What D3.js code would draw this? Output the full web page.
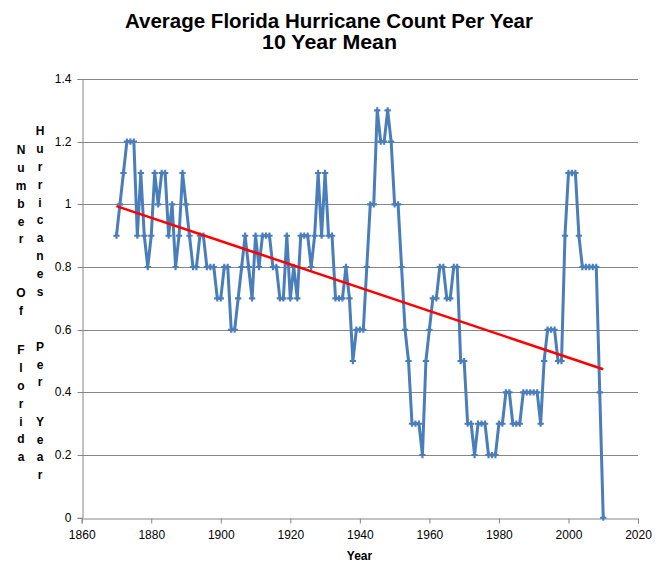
<!DOCTYPE html>
<html>
<head>
<meta charset="utf-8">
<script src="https://cdn.jsdelivr.net/npm/d3@7"></script>
<style>
  body { margin: 0; background: #fff; }
  svg { display: block; }
  .tick text { font-family: "Liberation Sans", Arial, sans-serif; font-size: 12px; fill: #000; }
</style>
</head>
<body>
<div id="chart"></div>
<script>
// 10 year mean of Florida hurricane counts, one value per year from 1870
var firstYear = 1870;
var meanCounts = [
    0.9, 1.0, 1.1, 1.2, 1.2, 1.2, 0.9, 1.1, 0.9, 0.8,   // 1870s
    0.9, 1.1, 1.0, 1.1, 1.1, 0.9, 1.0, 0.8, 0.9, 1.1,   // 1880s
    1.0, 0.9, 0.8, 0.8, 0.9, 0.9, 0.8, 0.8, 0.8, 0.7,   // 1890s
    0.7, 0.8, 0.8, 0.6, 0.6, 0.7, 0.8, 0.9, 0.8, 0.7,   // 1900s
    0.9, 0.8, 0.9, 0.9, 0.9, 0.8, 0.8, 0.7, 0.7, 0.9,   // 1910s
    0.7, 0.8, 0.7, 0.9, 0.9, 0.9, 0.8, 0.9, 1.1, 0.9,   // 1920s
    1.1, 0.9, 0.9, 0.7, 0.7, 0.7, 0.8, 0.7, 0.5, 0.6,   // 1930s
    0.6, 0.6, 0.8, 1.0, 1.0, 1.3, 1.2, 1.2, 1.3, 1.2,   // 1940s
    1.0, 1.0, 0.8, 0.6, 0.5, 0.3, 0.3, 0.3, 0.2, 0.5,   // 1950s
    0.6, 0.7, 0.7, 0.8, 0.8, 0.7, 0.7, 0.8, 0.8, 0.5,   // 1960s
    0.5, 0.3, 0.3, 0.2, 0.3, 0.3, 0.3, 0.2, 0.2, 0.2,   // 1970s
    0.3, 0.3, 0.4, 0.4, 0.3, 0.3, 0.3, 0.4, 0.4, 0.4,   // 1980s
    0.4, 0.4, 0.3, 0.5, 0.6, 0.6, 0.6, 0.5, 0.5, 0.9,   // 1990s
    1.1, 1.1, 1.1, 0.9, 0.8, 0.8, 0.8, 0.8, 0.8, 0.4,   // 2000s
    0.0                                                 // 2010
];
var xTicks = [1860, 1880, 1900, 1920, 1940, 1960, 1980, 2000, 2020];
var yTicks = [0, 0.2, 0.4, 0.6, 0.8, 1, 1.2, 1.4];
var titleLines = ["Average Florida Hurricane Count Per Year", "10 Year Mean"];
// stacked y axis title, one column per part
var yTitleCols = [
    [{word: "Number", top: 150}, {word: "Of", top: 293}, {word: "Florida", top: 350}],
    [{word: "Hurricanes", top: 131}, {word: "Per", top: 346.5}, {word: "Year", top: 421.5}]
];

var width = 659, height = 573;
var margin = {top: 79, right: 21, bottom: 55, left: 81.7};

var svg = d3.select("#chart").append("svg")
    .attr("width", width)
    .attr("height", height);

var data = meanCounts.map(function (v, i) {
    return {year: firstYear + i, value: v};
});

var x = d3.scaleLinear()
    .domain([1860, 2020])
    .range([margin.left, width - margin.right]);

var y = d3.scaleLinear()
    .domain([0, 1.4])
    .range([height - margin.bottom - 0.3, margin.top]);

// gridlines
svg.append("g")
    .selectAll("line")
    .data(yTicks.filter(function (d) { return d > 0; }))
    .enter().append("line")
    .attr("x1", x(1860))
    .attr("x2", x(2020))
    .attr("y1", function (d) { return Math.round(y(d)) + 0.5; })
    .attr("y2", function (d) { return Math.round(y(d)) + 0.5; })
    .attr("stroke", "#868686")
    .attr("stroke-width", 1);

// axes
var xAxis = svg.append("g")
    .attr("transform", "translate(0," + (Math.round(y(0)) + 0.5) + ")")
    .call(d3.axisBottom(x).tickValues(xTicks).tickFormat(d3.format("d")).tickSize(5).tickPadding(7));

var yAxis = svg.append("g")
    .attr("transform", "translate(" + (Math.round(x(1860)) + 0.5) + ",0)")
    .call(d3.axisLeft(y).tickValues(yTicks).tickFormat(function (d) { return d; }).tickSize(5).tickPadding(6));

[xAxis, yAxis].forEach(function (a) {
    a.select(".domain").attr("stroke", "#868686");
    a.selectAll(".tick line").attr("stroke", "#868686");
});
yAxis.selectAll(".tick").attr("transform", function (d) {
    return "translate(0," + (Math.round(y(d)) + 0.5) + ")";
});

// series line
var line = d3.line()
    .x(function (d) { return x(d.year); })
    .y(function (d) { return y(d.value); });

svg.append("path")
    .datum(data)
    .attr("fill", "none")
    .attr("stroke", "#4A7EBB")
    .attr("stroke-width", 3)
    .attr("stroke-linejoin", "round")
    .attr("d", line);

// markers
svg.append("g")
    .selectAll("path")
    .data(data)
    .enter().append("path")
    .attr("transform", function (d) { return "translate(" + x(d.year) + "," + y(d.value) + ")"; })
    .attr("d", d3.symbol().type(d3.symbolCross).size(22))
    .attr("fill", "#4A7EBB");

// linear trendline (least squares)
var n = data.length;
var mx = d3.mean(data, function (d) { return d.year; });
var my = d3.mean(data, function (d) { return d.value; });
var sxy = d3.sum(data, function (d) { return (d.year - mx) * (d.value - my); });
var sxx = d3.sum(data, function (d) { return (d.year - mx) * (d.year - mx); });
var slope = sxy / sxx;
var intercept = my - slope * mx;
var trendEnds = [data[0].year, data[n - 1].year];

svg.append("line")
    .attr("x1", x(trendEnds[0]))
    .attr("y1", y(intercept + slope * trendEnds[0]))
    .attr("x2", x(trendEnds[1]))
    .attr("y2", y(intercept + slope * trendEnds[1]))
    .attr("stroke", "#FF0000")
    .attr("stroke-width", 2.5);

// title
svg.append("text")
    .attr("x", 329)
    .attr("y", 27.5)
    .attr("text-anchor", "middle")
    .attr("textLength", 408)
    .attr("lengthAdjust", "spacingAndGlyphs")
    .style("font-family", "'Liberation Sans', Arial, sans-serif")
    .style("font-weight", "bold")
    .style("font-size", "21px")
    .text(titleLines[0]);

svg.append("text")
    .attr("x", 329.5)
    .attr("y", 49)
    .attr("text-anchor", "middle")
    .attr("textLength", 135)
    .attr("lengthAdjust", "spacingAndGlyphs")
    .style("font-family", "'Liberation Sans', Arial, sans-serif")
    .style("font-weight", "bold")
    .style("font-size", "21px")
    .text(titleLines[1]);

// x axis title
svg.append("text")
    .attr("x", 359.5)
    .attr("y", 560)
    .attr("text-anchor", "middle")
    .style("font-family", "'Liberation Sans', Arial, sans-serif")
    .style("font-weight", "bold")
    .style("font-size", "12px")
    .text("Year");

// y axis title, letters stacked
var step = 17.8;
var colX = [21, 40];
yTitleCols.forEach(function (col, ci) {
    col.forEach(function (part) {
        part.word.split("").forEach(function (ch, k) {
            svg.append("text")
                .attr("x", colX[ci])
                .attr("y", part.top + k * step)
                .attr("dy", "0.36em")
                .attr("text-anchor", "middle")
                .style("font-family", "'Liberation Sans', Arial, sans-serif")
                .style("font-weight", "bold")
                .style("font-size", "12px")
                .text(ch);
        });
    });
});
</script>
</body>
</html>
